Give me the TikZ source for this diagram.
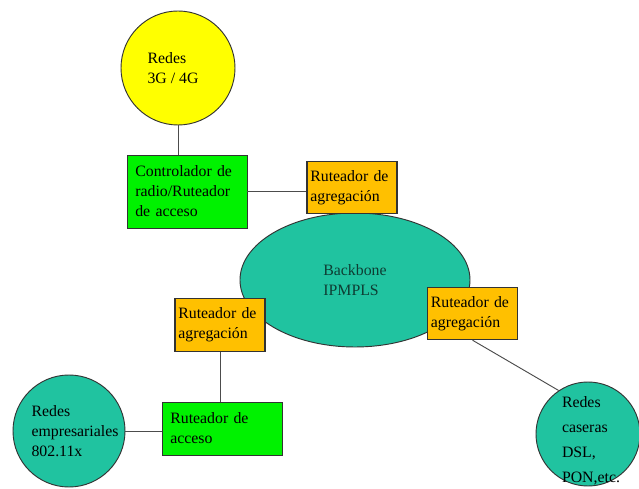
\documentclass[tikz,border=0pt]{standalone}
\usepackage{fontspec}
\setmainfont{Liberation Serif}
\usepackage{xcolor}
\usetikzlibrary{positioning, shapes, calc}

\definecolor{amarillored}{HTML}{FFFF00}
\definecolor{verdeacc}{HTML}{00F200}
\definecolor{naranjaagg}{HTML}{FFC000}
\definecolor{tealred}{HTML}{20C3A0}
\definecolor{textoteal}{HTML}{0E3D33}

\begin{document}
\begin{tikzpicture}[
    x=0.03cm, y=-0.03cm,
    font=\fontsize{13.5}{17}\selectfont,
    myred/.style={
        circle,
        draw=black!80,
        line width=0.8pt,
        inner sep=0pt
    },
    myacc/.style={
        rectangle,
        draw=black!80,
        fill=verdeacc,
        line width=0.8pt,
        text width=3.1cm,
        inner xsep=0.25cm,
        align=left
    },
    myagg/.style={
        rectangle,
        draw=black!80,
        fill=naranjaagg,
        line width=0.9pt,
        text width=2.5cm,
        inner xsep=0.1cm,
        minimum height=1.57cm,
        align=left
    },
    mylink/.style={
        draw=black!70,
        line width=0.8pt
    }
]
\useasboundingbox (0,0) rectangle (639,489);

\node (backbone) [ellipse, draw=black!80, line width=0.8pt, fill=tealred,
    minimum width=6.9cm, minimum height=4.02cm, align=left, text=textoteal]
    at (355,280) {Backbone\\IPMPLS};

\node (red3g) [myred, fill=amarillored, minimum size=3.42cm,
    label={[align=left, xshift=-0.15cm]center:Redes\\3G / 4G}] at (178,68) {};
\node (ctrl) [myacc, minimum height=2.19cm] at (187,191.5)
    {Controlador de\\radio/Ruteador\\de acceso};
\node (agg1) [myagg] at (352,187.5) {Ruteador de\\agregación};
\node (agg2) [myagg] at (472.5,313.5) {Ruteador de\\agregación};
\node (agg3) [myagg] at (220,325) {Ruteador de\\agregación};
\node (acc) [myacc, minimum height=1.59cm] at (222,428.5) {Ruteador de\\acceso};
\node (empr) [myred, fill=tealred, minimum size=3.36cm,
    label={[align=left, xshift=0.18cm]center:Redes\\empresariales\\802.11x}] at (69,431) {};
\node (casa) [myred, fill=tealred, minimum size=3.12cm,
    label={[align=left, font=\fontsize{13.5}{21.5}\selectfont, xshift=0.09cm, yshift=-0.2cm]center:Redes\\caseras\\DSL,\\PON,etc.}] at (588,434) {};

\draw [mylink] (red3g) -- (red3g |- ctrl.north);
\draw [mylink] (ctrl.east) -- (ctrl.east -| agg1.west);
\draw [mylink] (agg3) -- (agg3 |- acc.north);
\draw [mylink] (empr) -- (empr -| acc.west);
\draw [mylink] (agg2.south) -- (casa.124);
\end{tikzpicture}
\end{document}
